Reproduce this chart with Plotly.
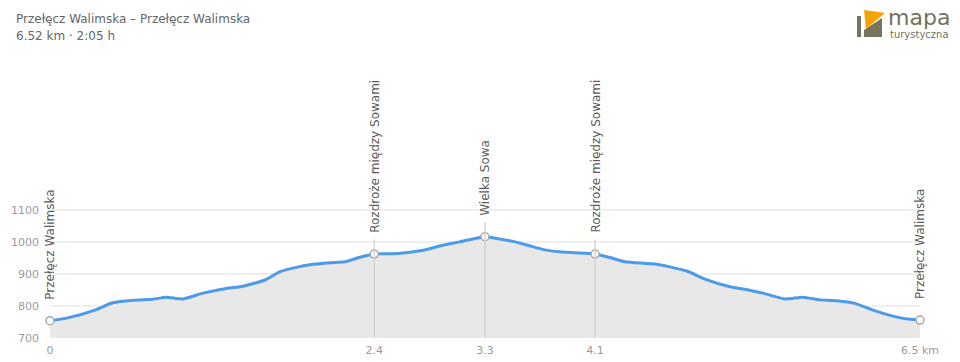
import plotly.graph_objects as go

# ---- data ----
dist_km = [0.00, 0.125, 0.337, 0.47, 0.622, 0.772, 0.869, 0.997, 1.147, 1.311, 1.424, 1.611,
           1.724, 1.821, 1.971, 2.098, 2.211, 2.323, 2.43, 2.585, 2.773, 2.96, 3.07, 3.26,
           3.37, 3.485, 3.6, 3.71, 3.82, 3.93, 4.085, 4.197, 4.31, 4.547, 4.771, 4.908,
           5.096, 5.193, 5.343, 5.508, 5.643, 5.77, 5.895, 6.032, 6.167, 6.383, 6.52]
elev_m = [754, 762, 787, 810, 818, 821, 827, 822, 840, 854, 860, 881,
          907, 918, 930, 935, 938, 952, 962, 963, 972, 991, 1000, 1016,
          1009, 1000, 987, 975, 969, 966, 962, 951, 938, 930, 909, 884,
          860, 853, 840, 822, 827, 819, 816, 808, 787, 762, 756]

waypoint_names = ["Przełęcz Walimska", "Rozdroże między Sowami", "Wielka Sowa",
                  "Rozdroże między Sowami", "Przełęcz Walimska"]
waypoint_km = [0.00, 2.43, 3.26, 4.085, 6.52]
waypoint_elev = [754, 962, 1016, 962, 756]

x_tickvals = [0, 2.43, 3.26, 4.085, 6.52]
x_ticktext = ["0", "2.4", "3.3", "4.1", "6.5 km"]
y_tickvals = [700, 800, 900, 1000, 1100]

title_line1 = "Przełęcz Walimska – Przełęcz Walimska"
title_line2 = "6.52 km · 2:05 h"

# ---- layout geometry (pixels) ----
W, H = 960, 362
L, R, T, B = 50, 40, 197, 24
PW, PH = W - L - R, H - T - B


def px(x):
    return (x - L) / PW


def py(y):
    return (H - B - y) / PH


FONT = "DejaVu Sans, Verdana, sans-serif"

fig = go.Figure()

fig.add_trace(go.Scatter(
    x=dist_km, y=elev_m, mode="lines",
    line=dict(color="#4d9be8", width=3, shape="spline", smoothing=0.6),
    fill="tozeroy", fillcolor="#e8e8e8", hoverinfo="skip", showlegend=False,
))

# vertical guide lines for intermediate waypoints
for k, e in zip(waypoint_km[1:-1], waypoint_elev[1:-1]):
    fig.add_shape(type="line", xref="x", yref="y", x0=k, x1=k, y0=700, y1=e + 45,
                  line=dict(color="#d4d4d4", width=1.5), layer="above")

fig.add_trace(go.Scatter(
    x=waypoint_km, y=waypoint_elev, mode="markers",
    marker=dict(size=8, color="white", line=dict(color="#a8a8a8", width=1.5)),
    cliponaxis=False, hoverinfo="skip", showlegend=False,
))

annotations = []
for name, k, e in zip(waypoint_names, waypoint_km, waypoint_elev):
    annotations.append(dict(
        x=k, y=e, xref="x", yref="y", text=name, showarrow=False,
        textangle=-90, xanchor="center", yanchor="bottom", yshift=19,
        font=dict(family=FONT, size=12, color="#5a5a5a"),
    ))

annotations.append(dict(x=px(14), y=py(19), xref="paper", yref="paper", text=title_line1,
                        showarrow=False, xanchor="left", yanchor="middle",
                        font=dict(family=FONT, size=12, color="#666666")))
annotations.append(dict(x=px(14), y=py(36), xref="paper", yref="paper", text=title_line2,
                        showarrow=False, xanchor="left", yanchor="middle",
                        font=dict(family=FONT, size=12, color="#666666")))

# logo text
annotations.append(dict(x=px(886), y=py(17), xref="paper", yref="paper", text="mapa",
                        showarrow=False, xanchor="left", yanchor="middle",
                        font=dict(family="DejaVu Sans", size=22, color="#75715e")))
annotations.append(dict(x=px(888), y=py(34), xref="paper", yref="paper", text="turystyczna",
                        showarrow=False, xanchor="left", yanchor="middle",
                        font=dict(family="DejaVu Sans", size=10, color="#75715e")))

shapes = []


def poly(points, color):
    d = "M " + " L ".join(f"{px(x):.5f},{py(y):.5f}" for x, y in points) + " Z"
    return dict(type="path", xref="paper", yref="paper", path=d,
                fillcolor=color, line=dict(width=0), layer="above")


shapes.append(poly([(857, 16), (861, 16), (861, 37), (857, 37)], "#77735f"))
shapes.append(poly([(864, 30), (882, 18), (882, 37), (864, 37)], "#77735f"))
shapes.append(poly([(864, 10), (885, 13), (866, 29)], "#f5a300"))

for s in shapes:
    fig.add_shape(**s)

fig.update_layout(
    width=W, height=H,
    margin=dict(l=L, r=R, t=T, b=B, autoexpand=False),
    paper_bgcolor="white", plot_bgcolor="white",
    annotations=annotations,
    xaxis=dict(range=[0, 6.52], tickvals=x_tickvals, ticktext=x_ticktext,
               showgrid=False, zeroline=False, showline=False, ticks="",
               automargin=False, ticklabelstandoff=4,
               tickfont=dict(family=FONT, size=11, color="#9a9a9a"), fixedrange=True),
    yaxis=dict(range=[700, 1140], tickvals=y_tickvals, showgrid=True,
               gridcolor="#efefef", gridwidth=1.5, zeroline=False, showline=False,
               ticks="", automargin=False, ticklabelstandoff=10,
               tickfont=dict(family=FONT, size=11, color="#9a9a9a"),
               fixedrange=True),
    showlegend=False,
)

fig.write_html("out.html")
